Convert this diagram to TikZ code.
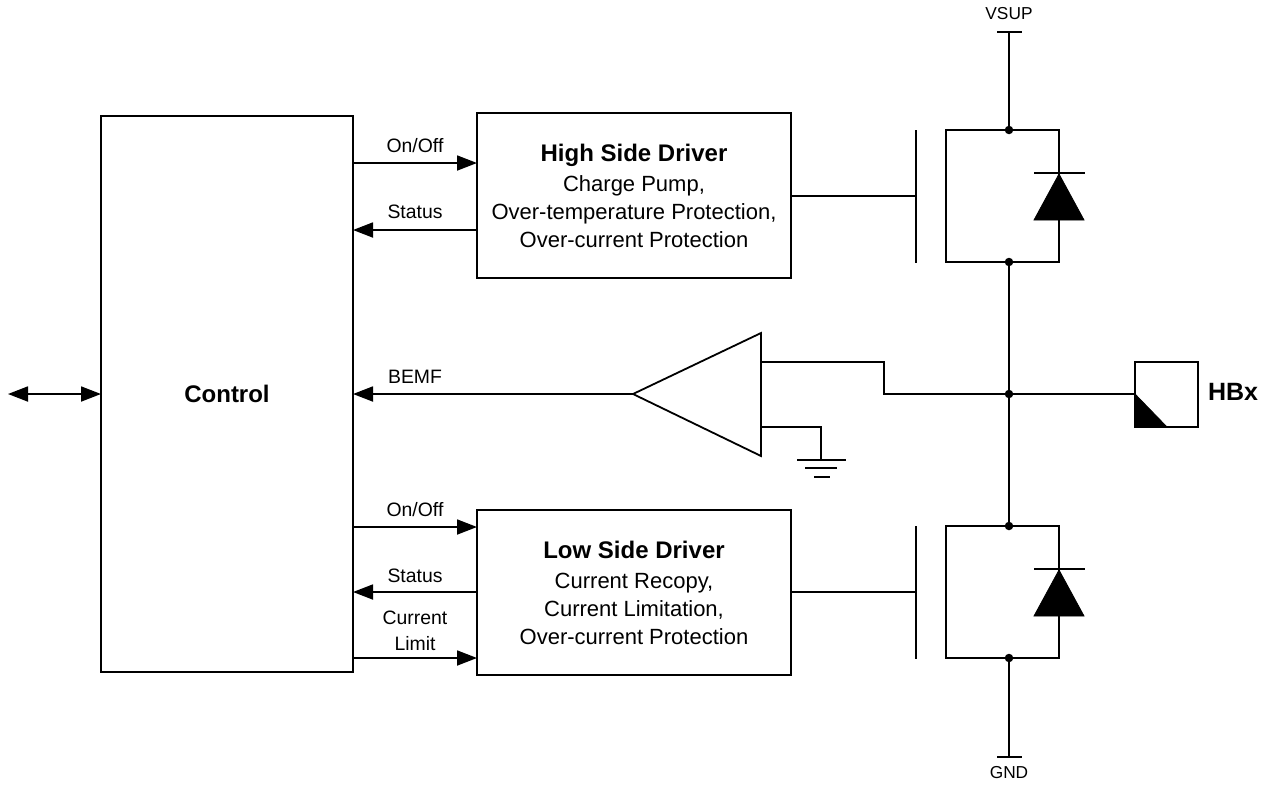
\documentclass[tikz,border=0pt]{standalone}
\usepackage{fontspec}
\setmainfont{Liberation Sans}
\usetikzlibrary{arrows.meta}
\tikzset{
  wire/.style={line width=1.8pt,draw=black},
  arrowline/.style={wire,-{Triangle[length=20pt,width=15pt]}},
  dualarrow/.style={wire,{Triangle[length=20pt,width=15pt]}-{Triangle[length=20pt,width=15pt]}},
  blockbox/.style={draw=black,line width=1.8pt,fill=white,inner sep=0pt,outer sep=0pt,align=center},
  drvbox/.style={blockbox,minimum width=314pt,minimum height=165pt,font=\fontsize{22}{28}\selectfont},
  label/.style={inner sep=0pt,font=\fontsize{19.4}{22}\selectfont},
  small/.style={inner sep=0pt,font=\fontsize{17.3}{20}\selectfont},
  junction/.style={circle,fill=black,inner sep=0pt,minimum size=8.5pt},
  solid fill/.style={fill=black,draw=black,line width=0.8pt,line join=miter},
}
\begin{document}
\begin{tikzpicture}[x=1pt,y=-1pt]
\useasboundingbox (0,0) rectangle (1268,785);
% blocks
\node[blockbox,minimum width=252pt,minimum height=556pt,font=\fontsize{24}{28}\selectfont\bfseries] (ctrl) at (227,394) {Control};
\node[drvbox] (hsd) at (634,195.5)
  {{\fontsize{24}{28}\selectfont\bfseries High Side Driver}\\[2pt]Charge Pump,\\Over-temperature Protection,\\Over-current Protection};
\node[drvbox] (lsd) at (634,592.5)
  {{\fontsize{24}{28}\selectfont\bfseries Low Side Driver}\\[2pt]Current Recopy,\\Current Limitation,\\Over-current Protection};
% left double arrow
\coordinate (ext) at (8,394);
\draw[dualarrow] (ext) -- (ctrl.west);
% high side arrows
\coordinate (c1) at (ctrl.east |- 0,163);
\coordinate (d1) at (hsd.west |- 0,163);
\coordinate (c2) at (ctrl.east |- 0,230);
\coordinate (d2) at (hsd.west |- 0,230);
\draw[arrowline] (c1) -- (d1);
\draw[arrowline] (d2) -- (c2);
\node[label] (lonoff1) at (415,146) {On/Off};
\node[label] (lstatus1) at (415,212) {Status};
% low side arrows
\coordinate (c3) at (ctrl.east |- 0,527);
\coordinate (d3) at (lsd.west |- 0,527);
\coordinate (c4) at (ctrl.east |- 0,592);
\coordinate (d4) at (lsd.west |- 0,592);
\coordinate (c5) at (ctrl.east |- 0,658);
\coordinate (d5) at (lsd.west |- 0,658);
\draw[arrowline] (c3) -- (d3);
\draw[arrowline] (d4) -- (c4);
\draw[arrowline] (c5) -- (d5);
\node[label] (lonoff2) at (415,510) {On/Off};
\node[label] (lstatus2) at (415,576) {Status};
\node[label] (lcur) at (415,618) {Current};
\node[label] (llim) at (415,644) {Limit};
% amplifier
\coordinate (ampo) at (633,394);
\coordinate (ampt) at (761,333);
\coordinate (ampb) at (761,456);
\draw[wire,line join=miter] (ampo) -- (ampt) -- (ampb) -- cycle;
\draw[arrowline] (ampo) -- (ctrl.east |- ampo);
\node[label] (lbemf) at (415,377) {BEMF};
% high side mosfet
\coordinate (g1t) at (916,130);
\coordinate (g1b) at (916,263);
\coordinate (g1m) at (916,196);
\draw[wire] (g1t) -- (g1b);
\draw[wire] (hsd.east |- g1m) -- (g1m);
\coordinate (m1a) at (946,130);
\coordinate (m1b) at (1059,130);
\coordinate (m1c) at (1059,262);
\coordinate (m1d) at (946,262);
\draw[wire,line join=miter] (m1a) -- (m1b) -- (m1c) -- (m1d) -- cycle;
\node[junction] (j1) at (1009,130) {};
\node[junction] (j2) at (1009,262) {};
\draw[wire] (1034,173) -- (1085,173);
\draw[solid fill] (1059,174) -- (1084,220) -- (1034,220) -- cycle;
% low side mosfet
\coordinate (g2t) at (916,526);
\coordinate (g2b) at (916,659);
\coordinate (g2m) at (916,592);
\draw[wire] (g2t) -- (g2b);
\draw[wire] (lsd.east |- g2m) -- (g2m);
\coordinate (m2a) at (946,526);
\coordinate (m2b) at (1059,526);
\coordinate (m2c) at (1059,658);
\coordinate (m2d) at (946,658);
\draw[wire,line join=miter] (m2a) -- (m2b) -- (m2c) -- (m2d) -- cycle;
\node[junction] (j3) at (1009,526) {};
\node[junction] (j4) at (1009,658) {};
\draw[wire] (1034,569) -- (1085,569);
\draw[solid fill] (1059,570) -- (1084,616) -- (1034,616) -- cycle;
% supply rails
\coordinate (vs) at (1009,32);
\coordinate (gn) at (1009,757);
\draw[wire] (vs) -- (j1);
\draw[wire] (997,32) -- (1022,32);
\node[small] (lvsup) at (1009,14) {VSUP};
\draw[wire] (j4) -- (gn);
\draw[wire] (997,757) -- (1022,757);
\node[small] (lgnd) at (1009,773) {GND};
\draw[wire] (j2) -- (j3);
% output node
\node[junction] (j5) at (1009,394) {};
\node[draw=black,line width=1.8pt,minimum width=63pt,minimum height=65pt,inner sep=0pt,outer sep=0pt] (hb) at (1166.5,394.5) {};
\coordinate (hbin) at (hb.west |- j5);
\draw[solid fill] (hbin) -- (hb.south west) -- (1167,427) -- cycle;
\node[inner sep=0pt,font=\fontsize{25}{28}\selectfont\bfseries] (lhb) at (1233,392) {HBx};
\draw[wire] (j5) -- (hbin);
\draw[wire,line join=miter] (761,362) -- (884,362) -- (884,394) -- (j5);
% ground
\draw[wire,line join=miter] (761,427) -- (821,427) -- (821,460);
\draw[wire] (797,460) -- (846,460);
\draw[wire] (805,468) -- (837,468);
\draw[wire] (814,477) -- (830,477);
\end{tikzpicture}
\end{document}
